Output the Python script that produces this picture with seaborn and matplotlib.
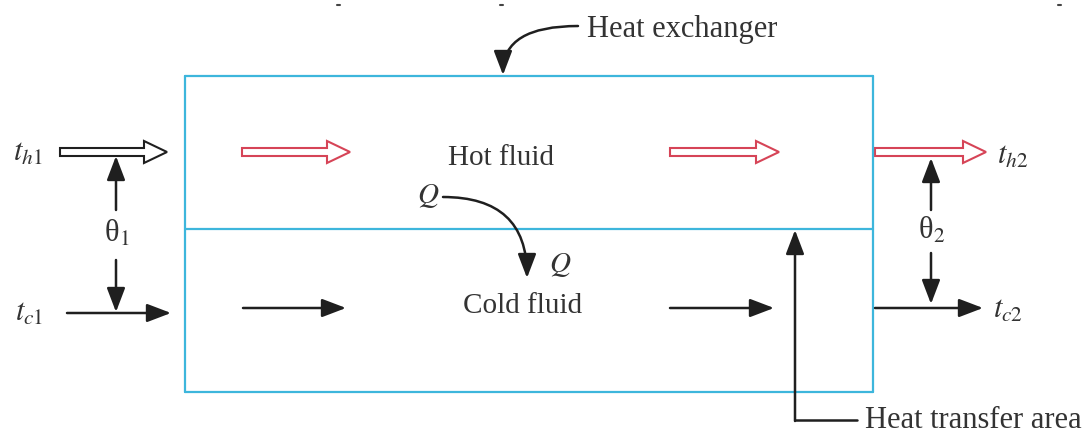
import matplotlib
matplotlib.use("Agg")
import matplotlib.pyplot as plt
import matplotlib.patches as mpatches
import seaborn as sns
import pandas as pd

# Diagram geometry (pixel space of the 1083x433 picture, y grows downwards)
box_left, box_right = 185, 873
box_top, box_mid, box_bottom = 76, 229, 392

# hot stream: hollow arrows (x start, x end), all at the same height
hot_y = 152
hot_inlet = (60, 167)
hot_arrows = [(242, 350), (670, 779), (875, 986)]

# cold stream: solid arrows (x start, x end, y)
cold_arrows = [(67, 171, 313), (243, 346, 308), (670, 774, 308), (875, 983, 308)]

# temperature differences: (x, tail of up arrow, tip up, tail of down arrow, tip down, label y)
theta_arrows = [(116, 210, 156, 260, 312, 234), (931, 210, 158, 253, 304, 231)]
theta_labels = ["θ$_1$", "θ$_2$"]

stream_labels = [r"$t_{h1}$", r"$t_{c1}$", r"$t_{h2}$", r"$t_{c2}$"]
stream_label_pos = [(13, 153), (15, 313), (997, 156), (993, 310)]

fluid_labels = ["Hot fluid", "Cold fluid"]
fluid_label_pos = [(501, 158), (523, 306)]

text_col = "#333333"
line_col = "#1f1f1f"
red = "#d64457"
blue = "#3db6dc"

sns.set_style("white")
plt.rcParams["font.family"] = ["Liberation Serif", "DejaVu Serif"]
plt.rcParams["mathtext.fontset"] = "stix"

fig = plt.figure(figsize=(10.83, 4.33), dpi=100)
ax = fig.add_axes([0, 0, 1, 1])

# the exchanger outline, one segment per edge
edges = pd.DataFrame({
    "seg": [0, 0, 1, 1, 2, 2, 3, 3, 4, 4],
    "x": [box_left, box_right, box_left, box_right, box_left, box_right,
          box_left, box_left, box_right, box_right],
    "y": [box_top, box_top, box_mid, box_mid, box_bottom, box_bottom,
          box_top, box_bottom, box_top, box_bottom],
})
sns.lineplot(data=edges, x="x", y="y", units="seg", estimator=None, sort=False,
             color=blue, linewidth=1.6, ax=ax)


def solid_arrow(x0, y0, x1, y1, conn="arc3", scale=14):
    ax.annotate("", xy=(x1, y1), xytext=(x0, y0),
                arrowprops=dict(arrowstyle="-|>,head_length=1.05,head_width=0.4",
                                connectionstyle=conn, color=line_col, lw=1.8,
                                shrinkA=0, shrinkB=0, mutation_scale=scale))


def hollow_arrow(x0, x1, y, ec):
    ax.add_patch(mpatches.FancyArrow(x0, y, x1 - x0, 0, width=8, head_width=22,
                                     head_length=23, length_includes_head=True,
                                     fc="white", ec=ec, lw=1.5))


hollow_arrow(hot_inlet[0], hot_inlet[1], hot_y, line_col)
for x0, x1 in hot_arrows:
    hollow_arrow(x0, x1, hot_y, red)

for x0, x1, y in cold_arrows:
    solid_arrow(x0, y, x1, y)

for (x, up0, up1, dn0, dn1, ly), lab in zip(theta_arrows, theta_labels):
    solid_arrow(x, up0, x, up1)
    solid_arrow(x, dn0, x, dn1)
    ax.text(x + 1, ly, lab, fontsize=22, color=text_col, ha="center", va="center")

for lab, (x, y) in zip(stream_labels, stream_label_pos):
    ax.text(x, y, lab, fontsize=22, color=text_col, ha="left", va="center")

for lab, (x, y) in zip(fluid_labels, fluid_label_pos):
    ax.text(x, y, lab, fontsize=21, color=text_col, ha="center", va="center")

# heat flow Q across the wall
ax.text(428, 196, r"$Q$", fontsize=21, color=text_col, ha="center", va="center")
solid_arrow(443, 197, 527, 278, conn="angle3,angleA=0,angleB=90")
ax.text(560, 265, r"$Q$", fontsize=21, color=text_col, ha="center", va="center")

# "Heat exchanger" call-out
solid_arrow(578, 26, 503, 75, conn="angle3,angleA=0,angleB=90")
ax.text(587, 30, "Heat exchanger", fontsize=22, color=text_col, ha="left", va="center")

# "Heat transfer area" call-out
ax.plot([857, 795], [420, 420], color=line_col, lw=1.8)
solid_arrow(795, 421, 795, box_mid + 1)
ax.text(865, 420, "Heat transfer area", fontsize=22, color=text_col, ha="left", va="center")

# small specks along the top edge of the scan
for sx in [338, 501, 1059]:
    ax.plot([sx - 1.5, sx + 1.5], [5, 5], color="#444444", lw=1.5)

ax.set_xlim(0, 1083)
ax.set_ylim(433, 0)
ax.axis("off")

fig.savefig("out.png", dpi=100)
